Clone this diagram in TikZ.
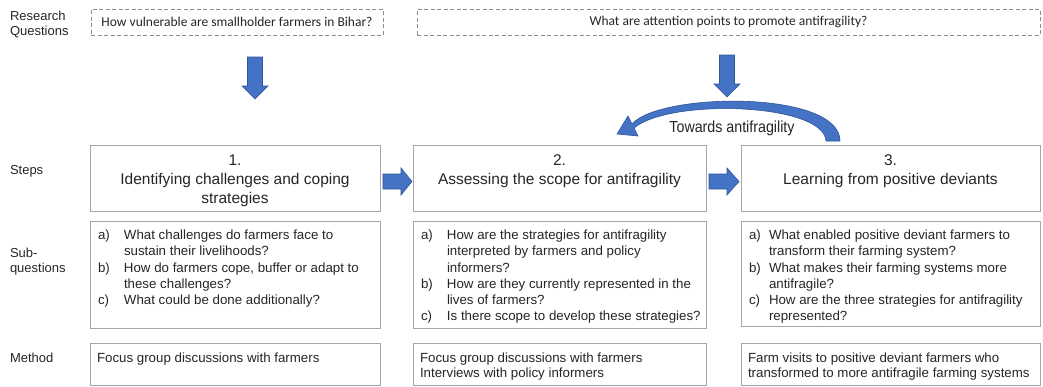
\documentclass[tikz,border=0pt]{standalone}
\usepackage{fontspec}
\setmainfont{Liberation Sans}
\newfontfamily\rqfont{Carlito}
\newfontfamily\narrowfont{Liberation Sans}[FakeStretch=0.89]
\usetikzlibrary{calc}
\definecolor{boxgray}{HTML}{A6A6A6}
\definecolor{dashgray}{HTML}{8C8C8C}
\definecolor{txt}{HTML}{262626}
\definecolor{arrowblue}{HTML}{4472C4}
\definecolor{arrowedge}{HTML}{2F5597}
\tikzset{
  box/.style={draw=boxgray, line width=0.8pt, fill=white, inner sep=0pt, outer sep=0pt, anchor=north west},
  rqbox/.style={draw=dashgray, line width=0.7pt, dash pattern=on 4pt off 2.5pt, inner sep=0pt, outer sep=0pt, anchor=north west, text=txt, font=\rqfont\fontsize{13.5}{16}\selectfont},
  rowlabel/.style={inner sep=0pt, outer sep=0pt, text=txt, font=\fontsize{13}{15}\selectfont},
  titletext/.style={inner sep=0pt, outer sep=0pt, anchor=north, text=txt, font=\fontsize{15.5}{18.7}\selectfont},
  subtext/.style={inner sep=0pt, outer sep=0pt, anchor=north west, text=txt, font=\fontsize{13.3}{16.3}\selectfont},
  methtext/.style={inner sep=0pt, outer sep=0pt, anchor=north west, text=txt, font=\fontsize{13.3}{15.5}\selectfont},
  blockarrow/.style={fill=arrowblue, draw=arrowedge, line width=0.6pt, line join=miter},
}
\begin{document}
\begin{tikzpicture}[x=1pt,y=-1pt]
\useasboundingbox (0,0) rectangle (1043,386);
\fill[white] (0,0) rectangle (1043,386);

% row labels
\node[rowlabel, anchor=north west] (lrq) at (10,9.5) {\begin{tabular}{@{}l@{}}Research\\Questions\end{tabular}};
\node[rowlabel, anchor=base west] (lsteps) at (10,174.5) {Steps};
\node[rowlabel, anchor=north west] (lsub) at (10,247) {\begin{tabular}{@{}l@{}}Sub-\\questions\end{tabular}};
\node[rowlabel, anchor=base west] (lmeth) at (10,362.5) {Method};

% research questions
\node[rqbox, minimum width=292, minimum height=26] (rq1) at (91,9) {How vulnerable are smallholder farmers in Bihar?};
\node[rqbox, minimum width=623, minimum height=26] (rq2) at (417,9) {What are attention points to promote antifragility?};

% down arrows
\draw[blockarrow] (247.5,57) -- (262.5,57) -- (262.5,86) -- (268,86) -- (255,99) -- (242,86) -- (247.5,86) -- cycle;
\draw[blockarrow] (719.5,55) -- (734.5,55) -- (734.5,84) -- (740,84) -- (727,97) -- (714,84) -- (719.5,84) -- cycle;

% curved arrow
\draw[blockarrow] (826,141) .. controls (824,103) and (670,98) .. (634,128) -- (638,136) -- (617,134) -- (628,116) -- (632,124) .. controls (660,92) and (840,90) .. (840,141) -- cycle;
\node[inner sep=0pt, text=txt, font=\narrowfont\fontsize{16}{18}\selectfont] (toward) at (732,128) {Towards antifragility};

% step boxes
\node[box, minimum width=290, minimum height=66] (step1) at (90,145) {};
\node[box, minimum width=293, minimum height=66] (step2) at (413,145) {};
\node[box, minimum width=299, minimum height=66] (step3) at (741,145) {};
\node[titletext] (step1t) at ($(step1.north)+(0,7.9)$) {\begin{tabular}{@{}c@{}}1.\\Identifying challenges and coping\\strategies\end{tabular}};
\node[titletext] (step2t) at ($(step2.north)+(0,7.9)$) {\begin{tabular}{@{}c@{}}2.\\Assessing the scope for antifragility\end{tabular}};
\node[titletext] (step3t) at ($(step3.north)+(0,7.9)$) {\begin{tabular}{@{}c@{}}3.\\Learning from positive deviants\end{tabular}};

% right arrows
\draw[blockarrow] (383,174) -- (401,174) -- (401,168) -- (412,181.5) -- (401,195) -- (401,189) -- (383,189) -- cycle;
\draw[blockarrow] (709,174) -- (727,174) -- (727,168) -- (739,181.5) -- (727,195) -- (727,189) -- (709,189) -- cycle;

% sub-question boxes
\node[box, minimum width=290, minimum height=107] (sub1) at (90,221) {};
\node[box, minimum width=293, minimum height=107] (sub2) at (413,221) {};
\node[box, minimum width=299, minimum height=105] (sub3) at (741,221) {};
\node[subtext] (sub1t) at ($(sub1.north west)+(8,7)$) {\begin{tabular}{@{}p{26pt}@{}l@{}}
a) & What challenges do farmers face to\\
   & sustain their livelihoods?\\
b) & How do farmers cope, buffer or adapt to\\
   & these challenges?\\
c) & What could be done additionally?
\end{tabular}};
\node[subtext] (sub2t) at ($(sub2.north west)+(8,7)$) {\begin{tabular}{@{}p{26pt}@{}l@{}}
a) & How are the strategies for antifragility\\
   & interpreted by farmers and policy\\
   & informers?\\
b) & How are they currently represented in the\\
   & lives of farmers?\\
c) & Is there scope to develop these strategies?
\end{tabular}};
\node[subtext] (sub3t) at ($(sub3.north west)+(8,7)$) {\begin{tabular}{@{}p{20pt}@{}l@{}}
a) & What enabled positive deviant farmers to\\
   & transform their farming system?\\
b) & What makes their farming systems more\\
   & antifragile?\\
c) & How are the three strategies for antifragility\\
   & represented?
\end{tabular}};

% method boxes
\node[box, minimum width=290, minimum height=42] (meth1) at (90,343) {};
\node[box, minimum width=293, minimum height=42] (meth2) at (413,343) {};
\node[box, minimum width=299, minimum height=42] (meth3) at (741,343) {};
\node[methtext] (meth1t) at ($(meth1.north west)+(7,8.6)$) {\begin{tabular}{@{}l@{}}Focus group discussions with farmers\end{tabular}};
\node[methtext] (meth2t) at ($(meth2.north west)+(7,8.6)$) {\begin{tabular}{@{}l@{}}Focus group discussions with farmers\\Interviews with policy informers\end{tabular}};
\node[methtext] (meth3t) at ($(meth3.north west)+(7,8.6)$) {\begin{tabular}{@{}l@{}}Farm visits to positive deviant farmers who\\transformed to more antifragile farming systems\end{tabular}};
\end{tikzpicture}
\end{document}
